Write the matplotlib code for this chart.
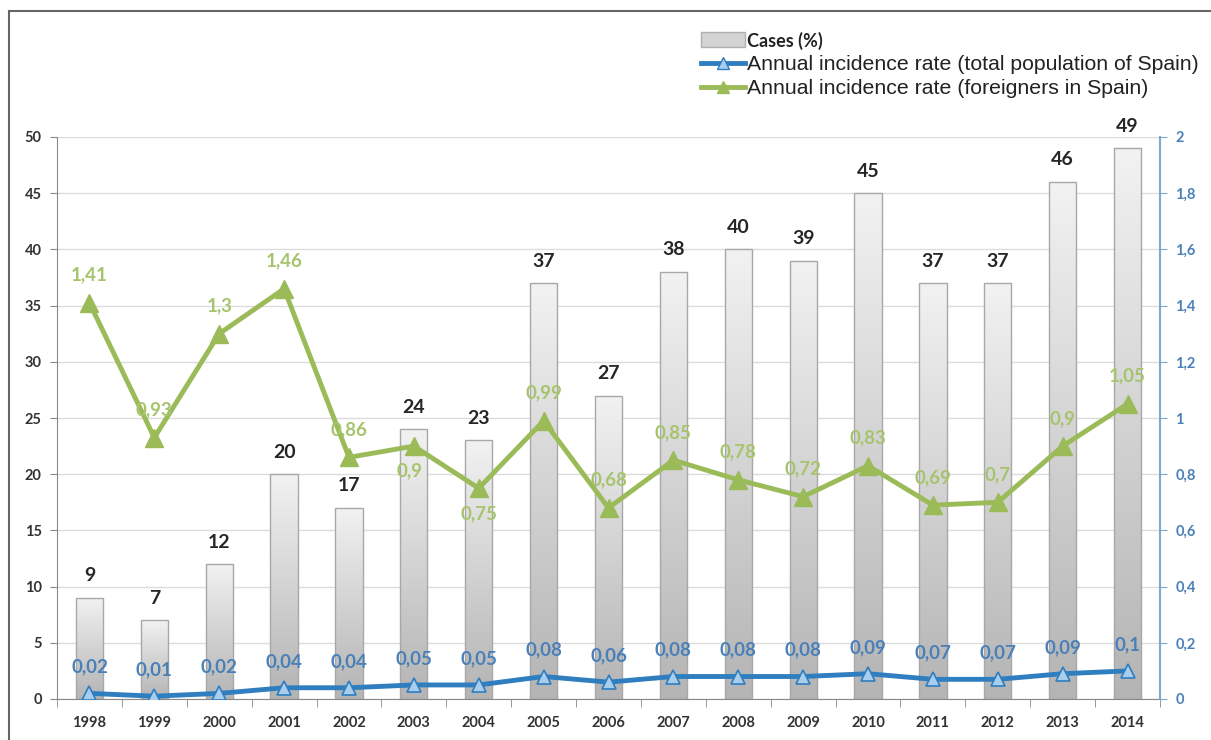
import numpy as np
import matplotlib
matplotlib.use('Agg')
import matplotlib.pyplot as plt
from matplotlib.patches import Rectangle, Patch
from matplotlib.lines import Line2D
from matplotlib.ticker import FuncFormatter, FixedLocator

years = ['1998', '1999', '2000', '2001', '2002', '2003', '2004', '2005', '2006',
         '2007', '2008', '2009', '2010', '2011', '2012', '2013', '2014']
cases = [9, 7, 12, 20, 17, 24, 23, 37, 27, 38, 40, 39, 45, 37, 37, 46, 49]
rate_total = [0.02, 0.01, 0.02, 0.04, 0.04, 0.05, 0.05, 0.08, 0.06,
              0.08, 0.08, 0.08, 0.09, 0.07, 0.07, 0.09, 0.1]
rate_foreign = [1.41, 0.93, 1.3, 1.46, 0.86, 0.9, 0.75, 0.99, 0.68,
                0.85, 0.78, 0.72, 0.83, 0.69, 0.7, 0.9, 1.05]

BLUE = '#2f7ebf'
BLUE_TXT = '#4a80b8'
GREEN = '#9bbb59'
GREEN_TXT = '#a6c46e'
DARK = '#262626'


def fmt(v):
    return ('%g' % v).replace('.', ',')


fig = plt.figure(figsize=(12.11, 7.4), dpi=100)
ax = fig.add_axes([57 / 1211, 1 - 699 / 740, (1160 - 57) / 1211, (699 - 137) / 740])
ax2 = ax.twinx()

x = np.arange(len(years))
width = 0.42

# bars with a vertical grey gradient
grad = np.linspace(0, 1, 256).reshape(-1, 1)
cmap = matplotlib.colors.LinearSegmentedColormap.from_list('g', ['#b4b4b4', '#f2f2f2'])
bars = ax.bar(x, cases, width, color='none', edgecolor='#a8a8a8', linewidth=1, zorder=2)
for i, b in enumerate(bars):
    bx, by = b.get_x(), b.get_y()
    bw, bh = b.get_width(), b.get_height()
    im = ax.imshow(grad, cmap=cmap, aspect='auto', origin='lower',
                   extent=[bx, bx + bw, by, by + bh], zorder=1)
    im.set_clip_path(b)
    ax.text(bx + bw / 2, bh + 1.2, str(cases[i]), ha='center',
            va='bottom', fontsize=14, fontweight='bold', color=DARK, family='Lato')

ax.set_xlim(-0.5, len(years) - 0.5)
ax.set_ylim(0, 50)
ax.set_yticks(range(0, 51, 5))
ax.grid(axis='y', color='#dcdcdc', linewidth=1, zorder=0)
ax.set_axisbelow(True)
ax.set_xticks(x)
ax.set_xticklabels(years)
ax.xaxis.set_minor_locator(FixedLocator(np.arange(-0.5, len(years), 1)))
ax.tick_params(axis='x', which='major', length=0, pad=12, labelsize=10.5, labelcolor='#333333')
ax.tick_params(axis='x', which='minor', length=6, color='#888888', direction='out')
ax.tick_params(axis='y', length=5, color='#888888', labelsize=10.5, labelcolor='#333333', pad=6)
for lbl in ax.get_xticklabels() + ax.get_yticklabels():
    lbl.set_family('Lato')
    lbl.set_fontweight('bold')
for s in ['top', 'right']:
    ax.spines[s].set_visible(False)
ax.spines['left'].set_color('#888888')
ax.spines['bottom'].set_color('#888888')

# incidence rates on the right axis
ax2.plot(x, rate_total, color=BLUE, linewidth=3.5, marker='^', markersize=10,
         markerfacecolor='#a9cdec', markeredgecolor=BLUE, markeredgewidth=1.2, zorder=4)
ax2.plot(x, rate_foreign, color=GREEN, linewidth=3.5, marker='^', markersize=13,
         markerfacecolor=GREEN, markeredgecolor=GREEN, zorder=3)
ax2.set_ylim(0, 2)
ax2.set_yticks(np.arange(0, 2.01, 0.2))
ax2.yaxis.set_major_formatter(FuncFormatter(lambda v, p: fmt(round(v, 1))))
ax2.tick_params(axis='y', length=5, color='#7fa7cf', labelsize=10.5, labelcolor='#4a80b8', pad=6)
for lbl in ax2.get_yticklabels():
    lbl.set_family('Lato')
    lbl.set_fontweight('bold')
for s in ['top', 'left', 'bottom']:
    ax2.spines[s].set_visible(False)
ax2.spines['right'].set_color('#7fa7cf')
ax2.spines['right'].set_linewidth(1.5)

for i, v in enumerate(rate_total):
    ax2.annotate(fmt(v), (i, v), xytext=(0, 19), textcoords='offset points',
                 ha='center', va='center', fontsize=13.5, color=BLUE_TXT, family='Lato',
                 fontweight='bold', zorder=5)
for i, v in enumerate(rate_foreign):
    dy = 20
    dx = 0
    if years[i] in ('2003', '2004'):
        dy = -18
        dx = -3 if years[i] == '2003' else 0
    ax2.annotate(fmt(v), (i, v), xytext=(dx, dy), textcoords='offset points',
                 ha='center', va='center', fontsize=13.5, color=GREEN_TXT, family='Lato',
                 fontweight='bold', zorder=5)

# legend
handles = [
    Patch(facecolor='#d4d4d4', edgecolor='#b0b0b0'),
    Line2D([], [], color=BLUE, linewidth=3.5, marker='^', markersize=8,
           markerfacecolor='#a9cdec', markeredgecolor=BLUE),
    Line2D([], [], color=GREEN, linewidth=3.5, marker='^', markersize=9,
           markerfacecolor=GREEN, markeredgecolor=GREEN),
]
labels = ['Cases (%)', 'Annual incidence rate (total population of Spain)',
          'Annual incidence rate (foreigners in Spain)']
leg = fig.legend(handles, labels, loc='upper left', bbox_to_anchor=(690 / 1211, 1 - 21 / 740),
                 frameon=False, prop={'family': 'Liberation Sans', 'size': 15.3},
                 handlelength=2.1, handletextpad=0.1, labelspacing=0.25, borderpad=0)
t0 = leg.get_texts()[0]
t0.set_family('Lato')
t0.set_fontweight('bold')
t0.set_fontsize(13)
for t in leg.get_texts():
    t.set_color('#222222')

# outer frame
fig.patches.append(Rectangle((9 / 1211, -0.1), 1.2, 1 - 11 / 740 + 0.1, transform=fig.transFigure,
                             fill=False, edgecolor='#666666', linewidth=1.5, zorder=10))

fig.savefig('out.png', dpi=100)
